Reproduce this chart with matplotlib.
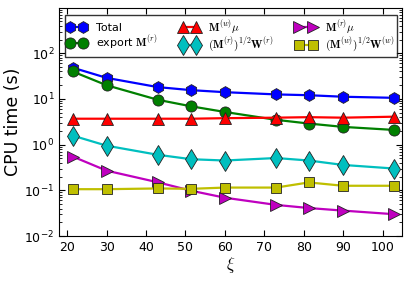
import matplotlib
matplotlib.use("Agg")
import matplotlib.pyplot as plt

xi = [21.4, 30, 43, 51.5, 60, 73, 81.3, 90, 103]
total = [48.5, 29, 18.2, 15.6, 14.1, 12.6, 12.1, 11.2, 10.6]
export_Mr = [40, 20, 9.6, 6.9, 5.2, 3.5, 2.9, 2.45, 2.1]
Mw_mu = [3.7, 3.7, 3.7, 3.7, 3.8, 3.9, 4.0, 3.9, 4.1]
Mr_half_Wr = [1.58, 0.95, 0.60, 0.48, 0.45, 0.51, 0.45, 0.36, 0.30]
Mr_mu = [0.55, 0.27, 0.15, 0.098, 0.069, 0.048, 0.041, 0.036, 0.030]
Mw_half_Ww = [0.106, 0.106, 0.11, 0.108, 0.115, 0.115, 0.149, 0.126, 0.126]

labels = ['Total', r'export $\mathbf{M}^{(r)}$', r'$\mathbf{M}^{(w)}\mu$',
          r'$(\mathbf{M}^{(r)})^{1/2}\mathbf{W}^{(r)}$', r'$\mathbf{M}^{(r)}\mu$',
          r'$(\mathbf{M}^{(w)})^{1/2}\mathbf{W}^{(w)}$']

plt.rcParams['mathtext.fontset'] = 'cm'
plt.rcParams['font.family'] = 'DejaVu Sans'

fig = plt.figure(figsize=(4.1, 2.83), dpi=100)
ax = fig.add_axes([0.1446, 0.166, 0.981 - 0.1446, 0.973 - 0.166])

series = [
    (total, 'b', 'h', 8.5),
    (export_Mr, 'g', 'o', 8),
    (Mw_mu, 'r', '^', 8),
    (Mr_half_Wr, 'c', 'd', 10.5),
    (Mr_mu, 'm', '>', 8),
    (Mw_half_Ww, 'y', 's', 7.5),
]
handles = []
for (vals, c, m, ms), lab in zip(series, labels):
    h, = ax.plot(xi, vals, color=c, marker=m, ms=ms, lw=1.6,
                 mec='#222222', mew=0.6, label=lab)
    handles.append(h)

ax.set_yscale('log')
ax.set_xlim(18, 105)
ax.set_ylim(1e-2, 1e3)
ax.set_xticks([20, 30, 40, 50, 60, 70, 80, 90, 100])
ax.set_yticks([1e-2, 1e-1, 1e0, 1e1, 1e2])
ax.tick_params(which='both', direction='in', top=True, right=True, labelsize=9)
ax.tick_params(which='major', length=4, width=0.8)
ax.tick_params(which='minor', length=2, width=0.6)
ax.tick_params(axis='x', which='minor', bottom=False, top=False)
ax.set_ylabel('CPU time (s)', fontsize=12.5, labelpad=2)
ax.set_xlabel(r'$\xi$', fontsize=12, labelpad=1)

leg = ax.legend(handles, labels,
                ncol=3, loc='upper center', numpoints=2, fontsize=8,
                frameon=True, fancybox=False, edgecolor='k',
                borderaxespad=0.7, handlelength=1.8, columnspacing=2.0,
                handletextpad=0.8, borderpad=0.2, labelspacing=0.05)
leg.get_frame().set_linewidth(1.0)

fig.savefig('out.png', dpi=100)
